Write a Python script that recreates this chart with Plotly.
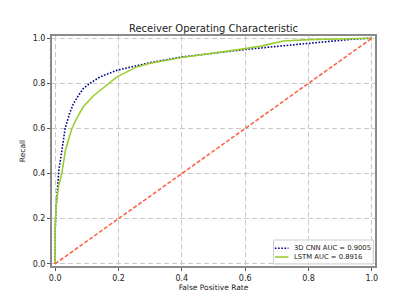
import plotly.graph_objects as go

cnn_fpr = [0, 0.0, 0.003, 0.008, 0.012, 0.021, 0.0315, 0.045, 0.058, 0.075, 0.089, 0.11, 0.142, 0.195, 0.25, 0.3, 0.4, 0.5, 0.6, 0.7, 0.8, 0.9, 0.95, 1.0]
cnn_tpr = [0, 0.15, 0.25, 0.35, 0.42, 0.50, 0.60, 0.665, 0.711, 0.75, 0.777, 0.80, 0.829, 0.858, 0.877, 0.892, 0.917, 0.934, 0.95, 0.964, 0.977, 0.99, 0.997, 1.0]

lstm_fpr = [0, 0, 0.003, 0.0105, 0.021, 0.032, 0.042, 0.053, 0.068, 0.089, 0.121, 0.142, 0.195, 0.258, 0.3, 0.4, 0.5, 0.6, 0.65, 0.7, 0.72, 0.8, 0.9, 1.0]
lstm_tpr = [0, 0.16, 0.254, 0.342, 0.40, 0.50, 0.55, 0.60, 0.645, 0.696, 0.745, 0.77, 0.829, 0.873, 0.889, 0.915, 0.933, 0.954, 0.965, 0.98, 0.988, 0.994, 0.998, 1.0]

diag = [0, 1]
tick_vals = [0.0, 0.2, 0.4, 0.6, 0.8, 1.0]

series_names = ["3D CNN AUC = 0.9005", "LSTM AUC = 0.8916"]
series_colors = ["#00008b", "#9acd32"]
series_dash = ["1.6px,1.6px", "solid"]

font = "DejaVu Sans"

fig = go.Figure()
fig.add_trace(go.Scatter(x=cnn_fpr, y=cnn_tpr, mode="lines", name=series_names[0], showlegend=False,
                         line=dict(color=series_colors[0], width=1.6, dash=series_dash[0])))
fig.add_trace(go.Scatter(x=lstm_fpr, y=lstm_tpr, mode="lines", name=series_names[1], showlegend=False,
                         line=dict(color=series_colors[1], width=1.6, dash=series_dash[1])))
fig.add_trace(go.Scatter(x=diag, y=diag, mode="lines", showlegend=False,
                         line=dict(color="#ff6347", width=1.6, dash="4px,2px")))

# compact legend (matplotlib-style) built in paper coordinates
fig.add_shape(type="rect", xref="paper", yref="paper", x0=0.686, x1=0.995, y0=0.009, y1=0.113,
              line=dict(color="#cccccc", width=1), fillcolor="rgba(255,255,255,0.85)", layer="above")
row_y = [0.077, 0.039]
for name, color, dash, yy in zip(series_names, series_colors, series_dash, row_y):
    fig.add_shape(type="line", xref="paper", yref="paper", x0=0.690, x1=0.732, y0=yy, y1=yy,
                  line=dict(color=color, width=1.6, dash=dash), layer="above")
    fig.add_annotation(xref="paper", yref="paper", x=0.743, y=yy, xanchor="left", yanchor="middle",
                       text=name, showarrow=False, font=dict(size=6.8, color="#222", family=font))

axis_common = dict(
    range=[-0.01, 1.01], tickvals=tick_vals, tickformat=".1f", automargin=False,
    showgrid=True, gridcolor="#c8c8c8", griddash="5px,3px", gridwidth=1,
    zeroline=False, showline=True, linecolor="#8a8a8a", linewidth=2, mirror=True,
    ticks="outside", ticklen=3, tickcolor="#555", tickfont=dict(size=8, color="#222", family=font),
)

fig.update_layout(
    width=408, height=291,
    margin=dict(l=44, r=41, t=28, b=33, autoexpand=False),
    paper_bgcolor="white", plot_bgcolor="white",
    title=dict(text="Receiver Operating Characteristic", x=0.5, xref="paper", xanchor="center",
               y=0.928, yanchor="middle", font=dict(size=10, color="#222", family=font),
               automargin=False),
    xaxis=dict(axis_common, title=dict(text="False Positive Rate", font=dict(size=7.5, color="#222", family=font), standoff=2)),
    yaxis=dict(axis_common, title=dict(text="Recall", font=dict(size=7.5, color="#222", family=font), standoff=6)),
    showlegend=False,
)

fig.write_html("out.html")
